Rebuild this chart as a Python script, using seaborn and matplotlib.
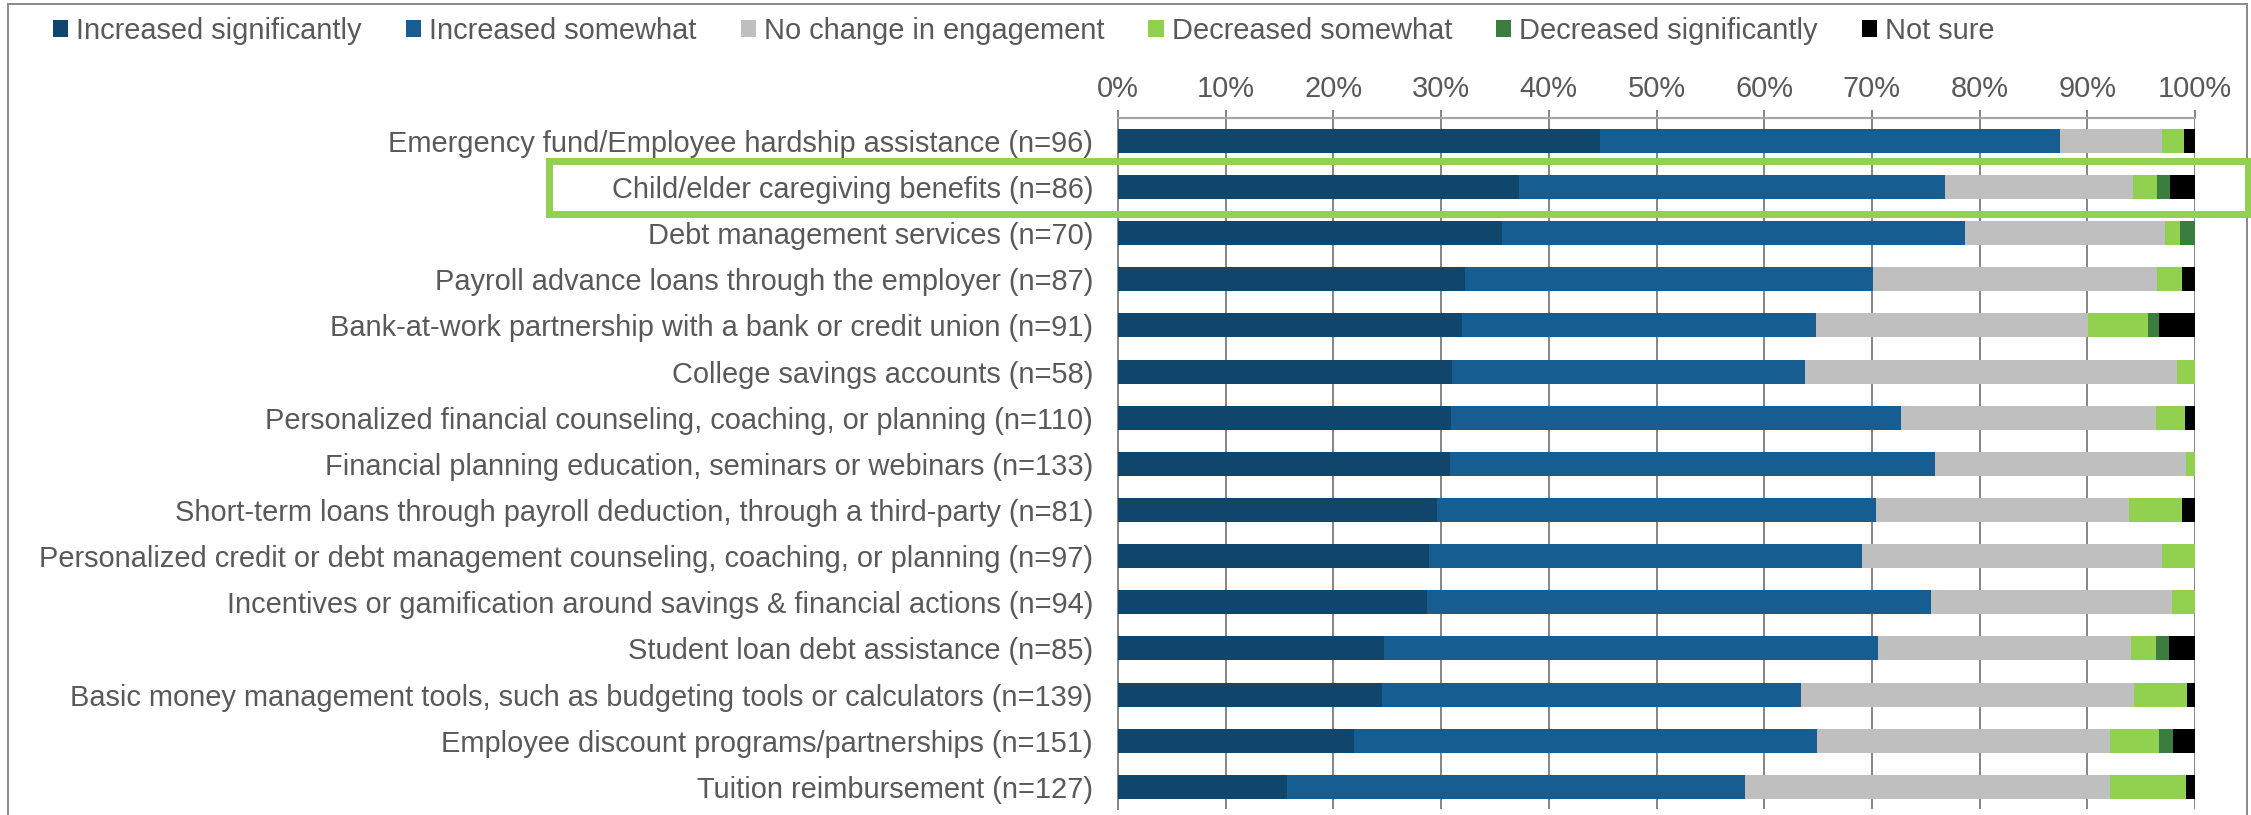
import matplotlib
matplotlib.use("Agg")
import matplotlib.pyplot as plt
import matplotlib.patches as mpatches
import matplotlib.transforms as mtransforms
import numpy as np
import pandas as pd
import seaborn as sns

# ---- data (percent of respondents) ----
benefits = [
    "Emergency fund/Employee hardship assistance (n=96)",
    "Child/elder caregiving benefits (n=86)",
    "Debt management services (n=70)",
    "Payroll advance loans through the employer (n=87)",
    "Bank-at-work partnership with a bank or credit union (n=91)",
    "College savings accounts (n=58)",
    "Personalized financial counseling, coaching, or planning (n=110)",
    "Financial planning education, seminars or webinars (n=133)",
    "Short-term loans through payroll deduction, through a third-party (n=81)",
    "Personalized credit or debt management counseling, coaching, or planning (n=97)",
    "Incentives or gamification around savings & financial actions (n=94)",
    "Student loan debt assistance (n=85)",
    "Basic money management tools, such as budgeting tools or calculators (n=139)",
    "Employee discount programs/partnerships (n=151)",
    "Tuition reimbursement (n=127)",
]

responses = [
    "Increased significantly",
    "Increased somewhat",
    "No change in engagement",
    "Decreased somewhat",
    "Decreased significantly",
    "Not sure",
]

increased_significantly = [44.8, 37.2, 35.7, 32.2, 31.9, 31.0, 30.9, 30.8, 29.6, 28.9, 28.7, 24.7, 24.5, 21.9, 15.7]
increased_somewhat = [42.7, 39.6, 42.9, 37.9, 32.9, 32.8, 41.8, 45.1, 40.8, 40.2, 46.8, 45.9, 38.9, 43.0, 42.5]
no_change = [9.4, 17.4, 18.6, 26.4, 25.3, 34.5, 23.7, 23.3, 23.5, 27.8, 22.4, 23.5, 30.9, 27.2, 33.9]
decreased_somewhat = [2.1, 2.3, 1.4, 2.3, 5.5, 1.7, 2.7, 0.8, 4.9, 3.1, 2.1, 2.3, 5.0, 4.6, 7.1]
decreased_significantly = [0.0, 1.2, 1.4, 0.0, 1.1, 0.0, 0.0, 0.0, 0.0, 0.0, 0.0, 1.2, 0.0, 1.3, 0.0]
not_sure = [1.0, 2.3, 0.0, 1.2, 3.3, 0.0, 0.9, 0.0, 1.2, 0.0, 0.0, 2.4, 0.7, 2.0, 0.8]

x_ticks = [0, 10, 20, 30, 40, 50, 60, 70, 80, 90, 100]
x_tick_labels = [f"{v}%" for v in x_ticks]

highlighted = "Child/elder caregiving benefits (n=86)"

# ---- style ----
colors = ["#10466C", "#165E91", "#BFBFBF", "#92D050", "#3A7D3E", "#000000"]
text_color = "#595959"
grid_color = "#878787"

sns.set_style("white")
plt.rcParams["font.family"] = ["Liberation Sans", "DejaVu Sans"]
FS = 20.9

series = [increased_significantly, increased_somewhat, no_change,
          decreased_somewhat, decreased_significantly, not_sure]

# long table with running totals, so stacked segments can be overlaid
frames = []
running = np.zeros(len(benefits))
for resp, vals in zip(responses, series):
    running = running + np.asarray(vals, dtype=float)
    frames.append(pd.DataFrame({"benefit": benefits, "response": resp,
                                "value": vals, "cum": running.copy()}))
df = pd.concat(frames, ignore_index=True)

fig = plt.figure(figsize=(22.51, 8.15), dpi=100)
ax = fig.add_axes([1118 / 2251, 1 - 809 / 815, (2195 - 1118) / 2251, (809 - 118.3) / 815])

# draw the longest running total first, then shorter ones on top
for resp, col in reversed(list(zip(responses, colors))):
    sub = df[df["response"] == resp]
    sns.barplot(data=sub, x="cum", y="benefit", order=benefits, orient="h",
                color=col, saturation=1, width=0.52, linewidth=0,
                errorbar=None, ax=ax, zorder=3)

ax.set_xlim(0, 100)
ax.set_ylim(14.48, -0.49)
ax.set_xlabel("")
ax.set_ylabel("")

ax.set_xticks(x_ticks)
ax.set_xticklabels(x_tick_labels)
ax.xaxis.tick_top()
ax.tick_params(axis="x", top=True, bottom=False, length=6, width=1.44,
               color=grid_color, pad=5, labelsize=FS, labelcolor=text_color)
ax.tick_params(axis="y", length=0, pad=18, labelsize=FS, labelcolor=text_color)

ax.set_axisbelow(True)
ax.xaxis.grid(True, color=grid_color, linewidth=1.44)
ax.yaxis.grid(False)

for side in ["right", "bottom"]:
    ax.spines[side].set_visible(False)
ax.spines["top"].set_color("#A6A6A6")
ax.spines["top"].set_linewidth(1.6)
ax.spines["left"].set_color(grid_color)
ax.spines["left"].set_linewidth(1.44)

# legend across the top
handles = [mpatches.Patch(facecolor=c, edgecolor="none", label=r)
           for r, c in zip(responses, colors)]
fig.legend(handles=handles, loc="center left",
           bbox_to_anchor=(53 / 2251, 1 - 31 / 815), ncol=6, frameon=False,
           fontsize=FS, labelcolor=text_color, borderpad=0, borderaxespad=0,
           handlelength=0.52, handleheight=0.52, handletextpad=0.28,
           columnspacing=1.52)

# highlight box around the caregiving row
row = benefits.index(highlighted)
blend = mtransforms.blended_transform_factory(fig.transFigure, ax.transData)
x0 = 548.5 / 2251
x1 = 2247.5 / 2251
fig.add_artist(mpatches.Rectangle((x0, row - 0.575), x1 - x0, 1.15,
                                  transform=blend, fill=False,
                                  edgecolor="#92D050", linewidth=5.0,
                                  clip_on=False, zorder=5))

# outer frame of the chart area
top = 1 - 3.7 / 815
fig.add_artist(mpatches.Rectangle((7.7 / 2251, -0.05), (2246.7 - 7.7) / 2251,
                                  top + 0.05, transform=fig.transFigure,
                                  fill=False, edgecolor="#8C8C8C",
                                  linewidth=1.44, clip_on=False, zorder=4))

fig.savefig("out.png", dpi=100, facecolor="white")
